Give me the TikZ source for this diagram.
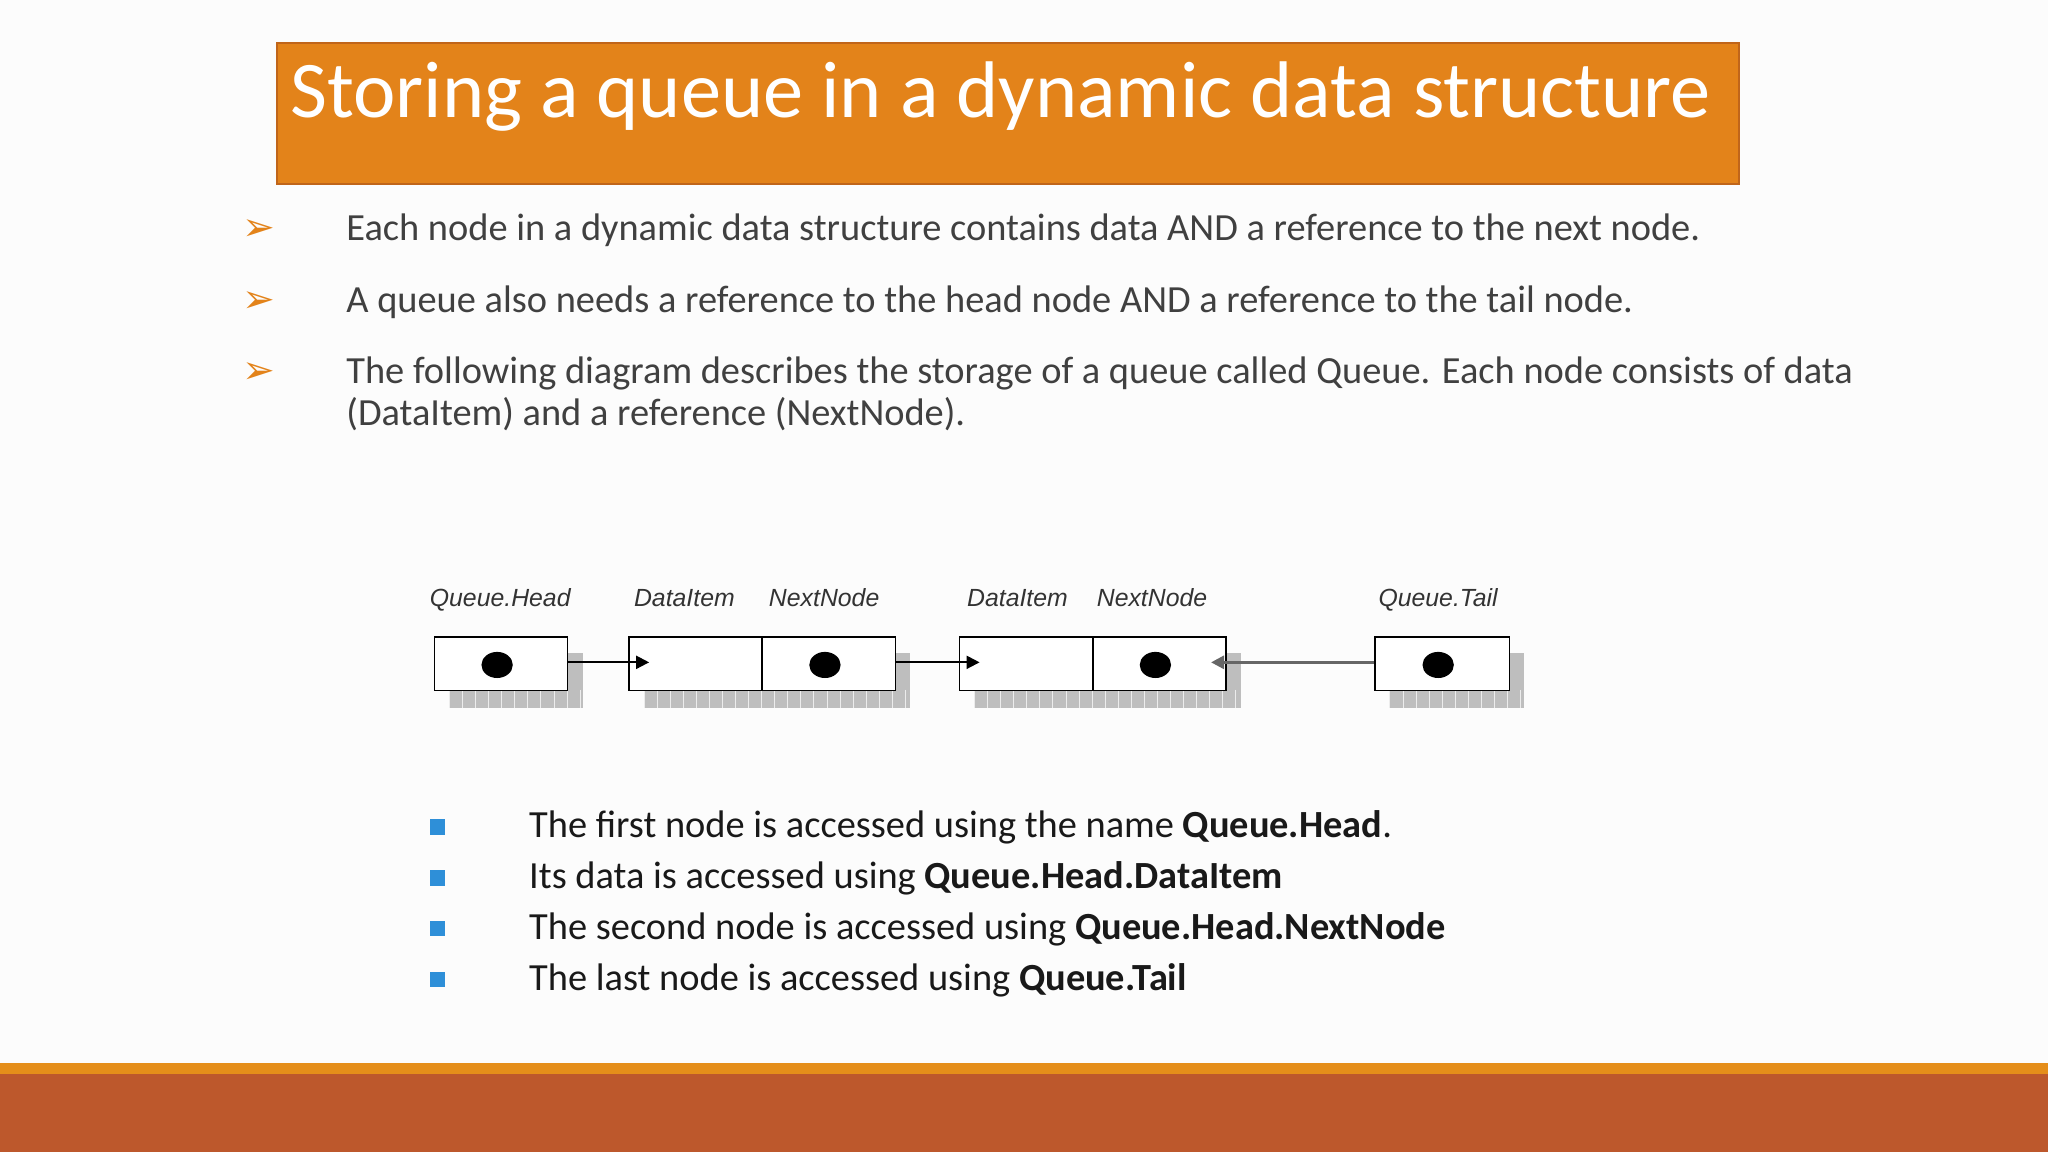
\documentclass[tikz,border=0pt]{standalone}
\usepackage{fontspec}
\setmainfont{Carlito}
\newfontfamily\arialf{Liberation Sans}
\newfontfamily\djv{DejaVu Sans}
\usetikzlibrary{arrows.meta,shapes.geometric}
\definecolor{titleor}{HTML}{E3831A}
\definecolor{titlebd}{HTML}{C0651A}
\definecolor{txtg}{HTML}{404040}
\definecolor{footor}{HTML}{E58E1A}
\definecolor{rust}{HTML}{BD582C}
\definecolor{blueb}{HTML}{2E8FD8}
\definecolor{shad}{HTML}{BEBEBE}
\tikzset{
 bl/.style={anchor=base west,text=txtg,font=\fontsize{29.4}{34}\selectfont,inner sep=0},
 arr/.style={anchor=base,text=titleor,font=\djv\fontsize{30}{34}\selectfont,inner sep=0},
 bb/.style={anchor=base west,text=black!90,font=\fontsize{29.4}{34}\selectfont,inner sep=0},
 lab/.style={anchor=base,font=\arialf\itshape\fontsize{19}{22}\selectfont,text=black!80,inner sep=0},
 cell/.style={draw=black,line width=1.2pt,fill=white},
 shd/.style={fill=shad},
 dot/.style={fill=black,ellipse,inner sep=0,minimum width=24pt,minimum height=20pt,draw=none},
 ptr/.style={-{Triangle[length=10pt,width=10pt]},line width=1.6pt},
 sq/.style={fill=blueb,minimum size=12pt,inner sep=0}
}
\begin{document}
\begin{tikzpicture}[x=1pt,y=-1pt]
\fill[white!98!gray] (0,0) rectangle (1568,882);
\useasboundingbox (0,0) rectangle (1568,882);
% title
\node[draw=titlebd,line width=1.5pt,fill=titleor,minimum width=1120pt,minimum height=108pt,inner sep=0,anchor=north west] (title) at (211,32) {};
\node[anchor=base west,text=white,font=\fontsize{61.5}{70}\selectfont,inner sep=0] (ttext) at (222,90) {Storing a queue in a dynamic data structure};
% bullets
\node[arr] (a1) at (198,184) {➢};
\node[arr] (a2) at (198,239) {➢};
\node[arr] (a3) at (198,294) {➢};
\node[bl] (t1) at (265,184) {Each node in a dynamic data structure contains data AND a reference to the next node.};
\node[bl] (t2) at (265,239) {A queue also needs a reference to the head node AND a reference to the tail node.};
\node[bl] (t3) at (265,294) {The following diagram describes the storage of a queue called Queue. Each node consists of data};
\node[bl] (t4) at (265,326) {(DataItem) and a reference (NextNode).};
% shadows
\fill[shd] (344,500) rectangle (446,542);
\fill[shd] (493,500) rectangle (697,542);
\fill[shd] (746,500) rectangle (950,542);
\fill[shd] (1064,500) rectangle (1167,542);
\foreach \x in {344,354,...,446} {\draw[white!70!shad,line width=0.4pt] (\x,528) -- (\x,542);}
\foreach \x in {493,503,...,697} {\draw[white!70!shad,line width=0.4pt] (\x,528) -- (\x,542);}
\foreach \x in {746,756,...,950} {\draw[white!70!shad,line width=0.4pt] (\x,528) -- (\x,542);}
\foreach \x in {1064,1074,...,1167} {\draw[white!70!shad,line width=0.4pt] (\x,528) -- (\x,542);}
% cells
\node[cell,minimum width=102pt,minimum height=41pt,anchor=north west,inner sep=0] (h) at (332,487) {};
\node[cell,minimum width=102pt,minimum height=41pt,anchor=north west,inner sep=0] (d1) at (481,487) {};
\node[cell,minimum width=102pt,minimum height=41pt,anchor=north west,inner sep=0] (n1) at (583,487) {};
\node[cell,minimum width=102pt,minimum height=41pt,anchor=north west,inner sep=0] (d2) at (734,487) {};
\node[cell,minimum width=102pt,minimum height=41pt,anchor=north west,inner sep=0] (n2) at (836,487) {};
\node[cell,minimum width=103pt,minimum height=41pt,anchor=north west,inner sep=0] (t) at (1052,487) {};
\node[dot] (hd) at ([xshift=-3pt,yshift=-1pt]h.center) {};
\node[dot] (n1d) at ([xshift=-3pt,yshift=-1pt]n1.center) {};
\node[dot] (n2d) at ([xshift=-3pt,yshift=-1pt]n2.center) {};
\node[dot] (td) at ([xshift=-3pt,yshift=-1pt]t.center) {};
% labels
\node[lab] (lh) at (383,464) {Queue.Head};
\node[lab] (ld1) at (524,464) {DataItem};
\node[lab] (ln1) at (631,464) {NextNode};
\node[lab] (ld2) at (779,464) {DataItem};
\node[lab] (ln2) at (882,464) {NextNode};
\node[lab] (lt) at (1101,464) {Queue.Tail};
% pointers
\coordinate (p1) at ([xshift=16pt,yshift=1pt]d1.west);
\coordinate (p2) at ([xshift=16pt,yshift=1pt]d2.west);
\coordinate (p3) at ([xshift=-12pt,yshift=1pt]n2.east);
\draw[ptr] ([yshift=1pt]h.east) -- (p1);
\draw[ptr] ([yshift=1pt]n1.east) -- (p2);
\draw[ptr,draw=black!60,line width=2.2pt] ([yshift=1pt]t.west) -- (p3);
% bottom bullets
\node[sq] (s1) at (335,633) {};
\node[sq] (s2) at (335,672) {};
\node[sq] (s3) at (335,711) {};
\node[sq] (s4) at (335,750) {};
\node[bb] (b1) at (405,641) {The first node is accessed using the name \textbf{Queue.Head}.};
\node[bb] (b2) at (405,680) {Its data is accessed using \textbf{Queue.Head.DataItem}};
\node[bb] (b3) at (405,719) {The second node is accessed using \textbf{Queue.Head.NextNode}};
\node[bb] (b4) at (405,758) {The last node is accessed using \textbf{Queue.Tail}};
% footer
\fill[footor] (0,814) rectangle (1568,822);
\fill[rust] (0,822) rectangle (1568,882);
\end{tikzpicture}
\end{document}
